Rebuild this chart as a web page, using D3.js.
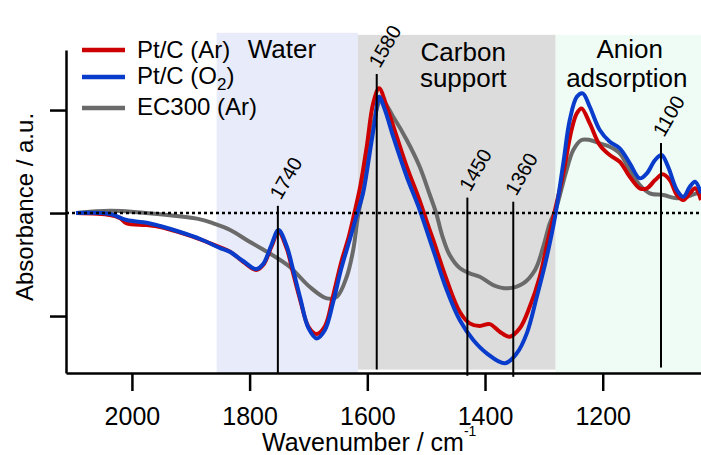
<!DOCTYPE html>
<html>
<head>
<meta charset="utf-8">
<script src="https://cdn.jsdelivr.net/npm/d3@7"></script>
<style>
  body { margin: 0; background: #fff; }
  svg { display: block; font-family: "Liberation Sans", Arial, sans-serif; }
</style>
</head>
<body>
<svg id="chart" width="701" height="455"></svg>
<script>
// spectra: [wavenumber cm-1, absorbance a.u.]
var ptcAr = [[2095,0],[2037,-0.02],[2020,-0.05],[2009,-0.1],[1975,-0.117],[1952,-0.136],[1918,-0.19],
  [1884,-0.255],[1850,-0.333],[1833,-0.376],[1811,-0.473],[1789,-0.553],[1777,-0.505],[1763,-0.327],
  [1751,-0.184],[1737,-0.343],[1726,-0.585],[1714,-0.845],[1700,-1.104],[1686,-1.175],[1672,-1.1],
  [1658,-0.8],[1644,-0.47],[1632,-0.24],[1622,0],[1612,0.26],[1601,0.644],[1590,1.065],[1580,1.211],
  [1567,1.032],[1550,0.741],[1533,0.45],[1511,0.12],[1496,-0.133],[1488,-0.262],[1465,-0.65],
  [1443,-0.958],[1426,-1.071],[1409,-1.097],[1392,-1.078],[1375,-1.152],[1358,-1.201],[1341,-1.119],
  [1324,-0.91],[1307,-0.618],[1293,-0.262],[1281,0.03],[1267,0.385],[1253,0.806],[1244,0.968],
  [1236,1.016],[1222,0.871],[1205,0.66],[1188,0.563],[1171,0.498],[1154,0.352],[1137,0.24],
  [1125,0.24],[1111,0.32],[1098,0.376],[1086,0.32],[1074,0.175],[1063,0.126],[1052,0.191],
  [1043,0.24],[1033,0.126]];

var ptcO2 = [[2095,0],[2037,-0.01],[2009,-0.068],[1975,-0.094],[1952,-0.126],[1918,-0.184],
  [1884,-0.252],[1850,-0.34],[1833,-0.379],[1811,-0.466],[1789,-0.544],[1777,-0.495],[1763,-0.31],
  [1751,-0.165],[1737,-0.32],[1726,-0.553],[1714,-0.825],[1700,-1.117],[1686,-1.217],[1672,-1.136],
  [1658,-0.864],[1644,-0.534],[1630,-0.262],[1617,0],[1607,0.2],[1596,0.58],[1587,0.903],[1580,1.129],
  [1570,1.0],[1556,0.741],[1533,0.352],[1511,0.03],[1488,-0.359],[1465,-0.748],[1443,-1.039],
  [1420,-1.233],[1397,-1.362],[1366,-1.459],[1346,-1.362],[1329,-1.168],[1312,-0.813],[1295,-0.424],
  [1281,-0.036],[1267,0.483],[1256,0.903],[1244,1.129],[1234,1.162],[1222,1.032],[1205,0.806],
  [1188,0.692],[1171,0.628],[1154,0.483],[1137,0.337],[1125,0.385],[1111,0.515],[1100,0.563],
  [1089,0.45],[1074,0.223],[1063,0.158],[1052,0.255],[1043,0.304],[1033,0.191]];

var ec300 = [[2095,0],[2037,0.022],[1981,0.003],[1924,-0.029],[1884,-0.061],[1862,-0.1],[1833,-0.165],
  [1800,-0.279],[1766,-0.391],[1732,-0.521],[1698,-0.716],[1669,-0.828],[1652,-0.813],[1635,-0.618],
  [1624,-0.359],[1616,-0.036],[1604,0.32],[1592,0.806],[1576,1.097],[1556,0.935],[1533,0.709],
  [1511,0.45],[1494,0.18],[1483,0],[1473,-0.214],[1460,-0.408],[1443,-0.534],[1426,-0.585],
  [1409,-0.618],[1386,-0.699],[1361,-0.731],[1335,-0.683],[1315,-0.553],[1301,-0.327],[1290,-0.1],
  [1279,0.05],[1263,0.385],[1250,0.612],[1236,0.709],[1222,0.709],[1205,0.677],[1188,0.644],
  [1171,0.58],[1154,0.417],[1137,0.272],[1120,0.191],[1097,0.175],[1074,0.143],[1057,0.158],
  [1040,0.191],[1033,0.194]];

var seriesNames = ["Pt/C (Ar)", "Pt/C (O2)", "EC300 (Ar)"];
var seriesColors = ["#cc0000", "#0a3ccc", "#6a6a6a"];

// shaded regions
var bandNames = ["Water", "Carbon support", "Anion adsorption"];
var bandFrom = [1856, 1616, 1280];
var bandTo = [1616, 1280, 1033];
var bandColors = ["#e8ebf9", "#dcdcdc", "#effcf5"];

// marked peaks: line position, label, top of the line (a.u.)
var peakPos = [1752, 1584, 1430, 1352, 1101];
var peakLabels = ["1740", "1580", "1450", "1360", "1100"];
var peakTop = [0.07, 1.35, 0.15, 0.11, 0.68];

var xTicks = [2000, 1800, 1600, 1400, 1200];
var yTicks = [-1, 0, 1];

var svg = d3.select("#chart");

var x = d3.scaleLinear().domain([2112, 1033]).range([66, 701]);
var y = d3.scaleLinear().domain([-1.553, 1.583]).range([373, 50]);

// bands
bandNames.forEach(function(name, i) {
  var top = i == 0 ? 1.75 : 1.73;
  var bottom = i == 1 ? -1.52 : -1.553;
  svg.append("rect")
    .attr("x", x(bandFrom[i]))
    .attr("y", y(top))
    .attr("width", x(bandTo[i]) - x(bandFrom[i]))
    .attr("height", y(bottom) - y(top))
    .attr("fill", bandColors[i]);
});

// band labels
var bandText = svg.append("g").attr("font-size", 26).attr("fill", "#000").attr("text-anchor", "middle");
bandText.append("text").attr("x", x(1745)).attr("y", 58).text("Water");
bandText.append("text").attr("x", x(1437)).attr("y", 61).text("Carbon");
bandText.append("text").attr("x", x(1437)).attr("y", 87).text("support");
bandText.append("text").attr("x", x(1154)).attr("y", 58).text("Anion");
bandText.append("text").attr("x", x(1159)).attr("y", 87).text("adsorption");

// spectra
var line = d3.line()
  .x(function(d) { return x(d[0]); })
  .y(function(d) { return y(d[1]); })
  .curve(d3.curveCatmullRom.alpha(0.5));

[ec300, ptcAr, ptcO2].forEach(function(s, i) {
  var c = [seriesColors[2], seriesColors[0], seriesColors[1]][i];
  svg.append("path")
    .datum(s)
    .attr("d", line)
    .attr("fill", "none")
    .attr("stroke", c)
    .attr("stroke-width", 4)
    .attr("stroke-linejoin", "round");
});

// zero line
svg.append("line")
  .attr("x1", x(2112)).attr("x2", x(1033))
  .attr("y1", y(0)).attr("y2", y(0))
  .attr("stroke", "#000")
  .attr("stroke-width", 2.5)
  .attr("stroke-dasharray", "3,3");

// peak markers
var peakBottom = [-1.553, -1.52, -1.58, -1.59, -1.5];
peakPos.forEach(function(p, i) {
  svg.append("line")
    .attr("x1", x(p)).attr("x2", x(p))
    .attr("y1", y(peakTop[i])).attr("y2", y(peakBottom[i]))
    .attr("stroke", "#000")
    .attr("stroke-width", 2);
  svg.append("text")
    .attr("transform", "translate(" + (x(p) + 3) + "," + (y(peakTop[i]) - 5) + ") rotate(-60)")
    .attr("font-size", 20)
    .attr("fill", "#000")
    .text(peakLabels[i]);
});

// axes
var xAxis = svg.append("g")
  .attr("transform", "translate(0," + y(-1.553) + ")")
  .call(d3.axisBottom(x).tickValues(xTicks).tickSize(18).tickSizeOuter(0).tickFormat(d3.format("d")));
xAxis.select(".domain").attr("stroke-width", 2.5);
xAxis.selectAll(".tick line").attr("stroke-width", 2.5);
xAxis.selectAll(".tick text")
  .attr("y", 52).attr("dy", null)
  .attr("font-size", 25)
  .attr("font-family", "Liberation Sans, Arial, sans-serif")
  .attr("fill", "#000");

var yAxis = svg.append("g")
  .attr("transform", "translate(" + x(2112) + ",0)")
  .call(d3.axisLeft(y).tickValues(yTicks).tickSize(16).tickSizeOuter(0).tickFormat(""));
yAxis.select(".domain").attr("stroke-width", 2.5);
yAxis.selectAll(".tick line").attr("stroke-width", 2.5);

// axis titles
svg.append("text")
  .attr("transform", "translate(33,207) rotate(-90)")
  .attr("text-anchor", "middle")
  .attr("font-size", 24)
  .attr("fill", "#000")
  .text("Absorbance / a.u.");

var xt = svg.append("text")
  .attr("x", 262).attr("y", 451)
  .attr("font-size", 25)
  .attr("fill", "#000");
xt.append("tspan").text("Wavenumber / cm");
xt.append("tspan").attr("font-size", 14).attr("dy", -15).text("-1");

// legend
var legendY = [50, 77, 108];
var legendBase = [58, 84, 115];
seriesNames.forEach(function(name, i) {
  svg.append("line")
    .attr("x1", 82).attr("x2", 125)
    .attr("y1", legendY[i]).attr("y2", legendY[i])
    .attr("stroke", seriesColors[i])
    .attr("stroke-width", 4.5);
  var t = svg.append("text")
    .attr("x", 137).attr("y", legendBase[i])
    .attr("font-size", 24)
    .attr("fill", "#000");
  if (name == "Pt/C (O2)") {
    t.append("tspan").text("Pt/C (O");
    t.append("tspan").attr("font-size", 17).attr("dy", 6).text("2");
    t.append("tspan").attr("dy", -6).text(")");
  } else {
    t.text(name);
  }
});
</script>
</body>
</html>
